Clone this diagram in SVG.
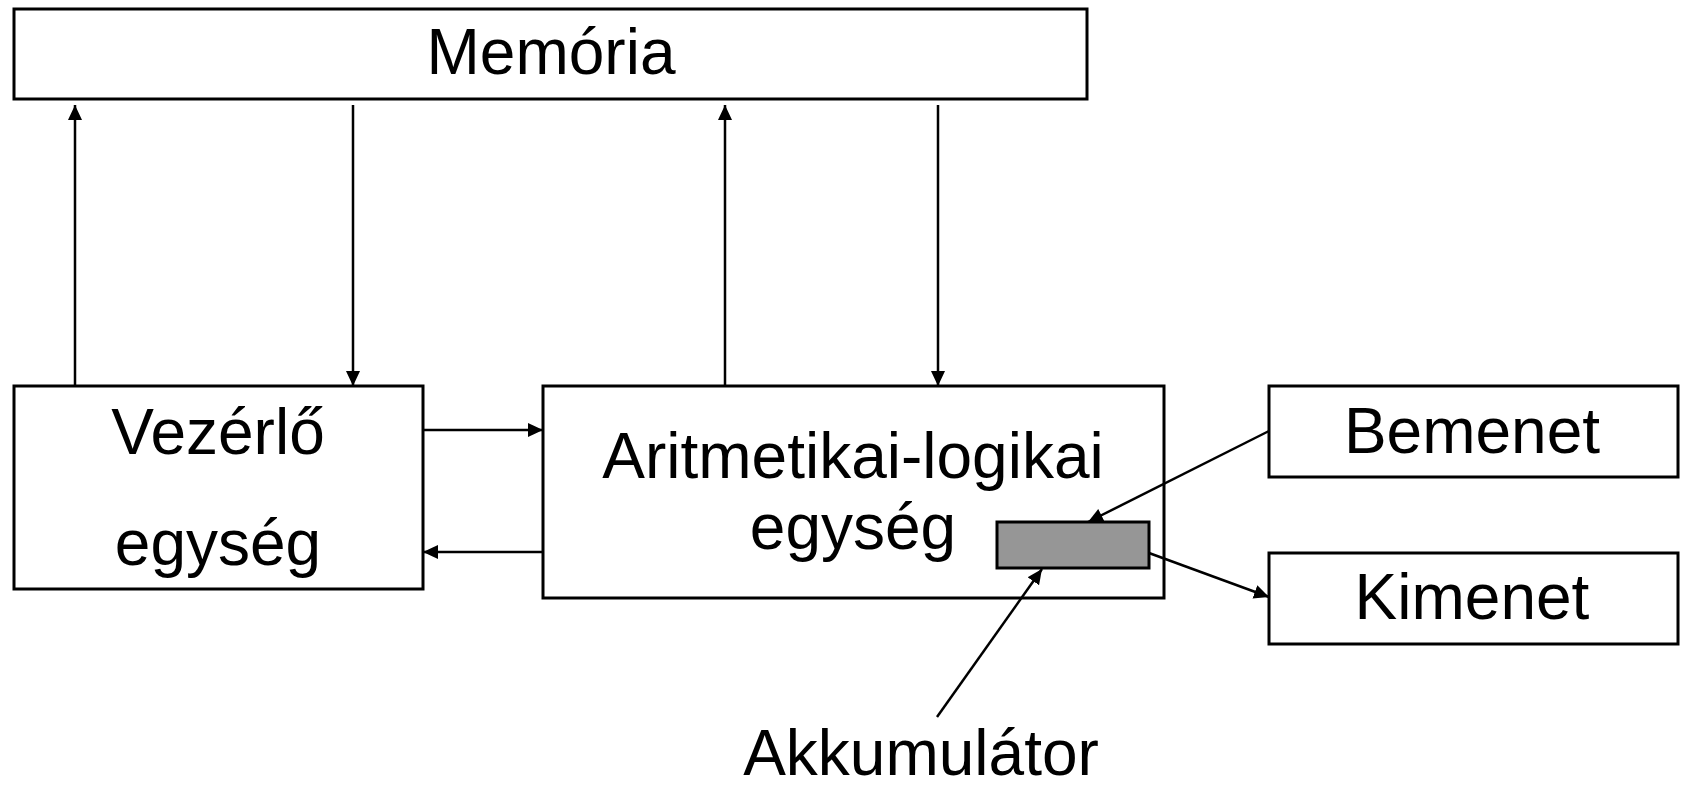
<svg xmlns="http://www.w3.org/2000/svg" width="1683" height="789" viewBox="0 0 1683 789">
<style>
.box{fill:#fff;stroke:#000;stroke-width:3}
.acc{fill:#969696;stroke:#000;stroke-width:3}
.lbl{font-family:"Liberation Sans",Arial,sans-serif;font-size:64px;fill:#000;text-anchor:middle}
.con{stroke:#000;stroke-width:2.5;fill:none;marker-end:url(#arr)}
</style>
<defs>
<marker id="arr" viewBox="0 0 15 15" refX="15" refY="7.5" markerWidth="15" markerHeight="15" markerUnits="userSpaceOnUse" orient="auto">
<path d="M0,0.5 L15,7.5 L0,14.5 z" fill="#000"/>
</marker>
</defs>
<g id="memoria">
<rect class="box" x="14" y="9" width="1073" height="90"/>
<text class="lbl" x="551" y="74">Memória</text>
</g>
<g id="vezerlo">
<rect class="box" x="14" y="386" width="409" height="203"/>
<text class="lbl" x="218" y="454">Vezérlő</text>
<text class="lbl" x="218" y="565">egység</text>
</g>
<g id="alu">
<rect class="box" x="543" y="386" width="621" height="212"/>
<text class="lbl" x="853" y="478">Aritmetikai-logikai</text>
<text class="lbl" x="853" y="549">egység</text>
</g>
<g id="akkumulator">
<rect class="acc" x="997" y="522" width="152" height="46"/>
</g>
<g id="bemenet">
<rect class="box" x="1269" y="386" width="409" height="91"/>
<text class="lbl" x="1472" y="453">Bemenet</text>
</g>
<g id="kimenet">
<rect class="box" x="1269" y="553" width="409" height="91"/>
<text class="lbl" x="1472" y="619">Kimenet</text>
</g>
<g id="akkumulator-label">
<text class="lbl" x="921" y="775">Akkumulátor</text>
</g>
<g id="connectors">
<line class="con" x1="75" y1="386" x2="75" y2="105"/>
<line class="con" x1="353" y1="105" x2="353" y2="386"/>
<line class="con" x1="725" y1="386" x2="725" y2="105"/>
<line class="con" x1="938" y1="105" x2="938" y2="386"/>
<line class="con" x1="423" y1="430" x2="543" y2="430"/>
<line class="con" x1="543" y1="552" x2="423" y2="552"/>
<line class="con" x1="1269" y1="431" x2="1088" y2="522"/>
<line class="con" x1="1149" y1="553" x2="1269" y2="597"/>
<line class="con" x1="937" y1="717" x2="1042" y2="569"/>
</g>
</svg>
